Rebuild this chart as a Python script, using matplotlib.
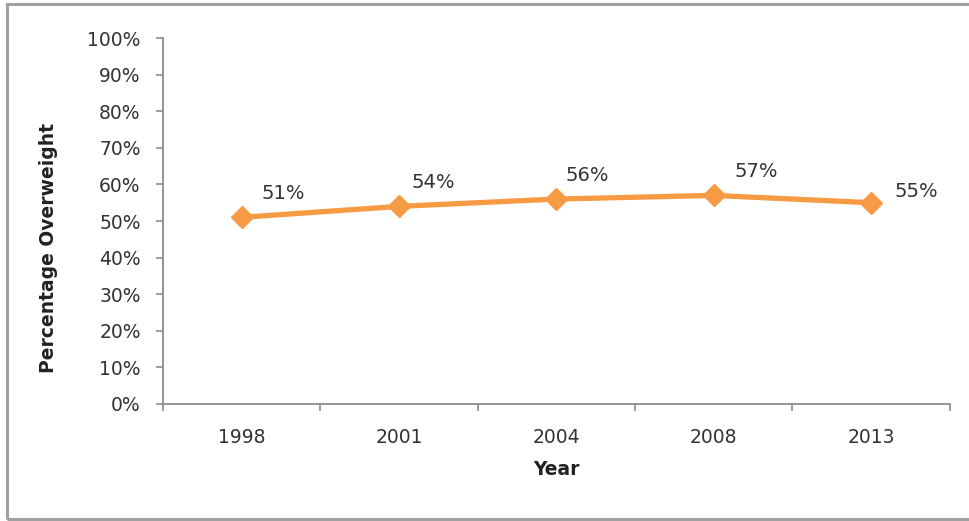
import matplotlib.pyplot as plt
from matplotlib.patches import Rectangle

years = ['1998', '2001', '2004', '2008', '2013']
overweight = [51, 54, 56, 57, 55]
point_labels = ['51%', '54%', '56%', '57%', '55%']
# label offsets in points (dx, dy) from each point
label_offsets = [(30, 17), (25, 17), (22, 17), (31, 17), (33, 8)]

plt.rcParams['font.family'] = ['DejaVu Sans']

fig = plt.figure(figsize=(9.7, 5.21), dpi=100)
ax = fig.add_axes([0.168, 0.2246, 0.811, 0.7024])

x = list(range(len(years)))
ax.plot(x, overweight, color='#F79A44', linewidth=3.8, marker='D',
        markersize=11, markerfacecolor='#F79A44', markeredgecolor='#F79A44',
        solid_capstyle='round', zorder=3)

for i, (v, lab) in enumerate(zip(overweight, point_labels)):
    ax.annotate(lab, (i, v), xytext=label_offsets[i], textcoords='offset points',
                ha='center', va='center', fontsize=14, color='#333333')

ax.set_xlim(-0.5, len(years) - 0.5)
ax.set_ylim(0, 100)
ax.set_yticks(range(0, 101, 10))
ax.set_yticklabels([f'{v}%' for v in range(0, 101, 10)])
ax.set_xticks([i - 0.5 for i in range(len(years) + 1)])
ax.set_xticklabels([])
ax.set_xticks(x, minor=True)
ax.set_xticklabels(years, minor=True)

for s in ['top', 'right']:
    ax.spines[s].set_visible(False)
for s in ['left', 'bottom']:
    ax.spines[s].set_color('#8c8c8c')
    ax.spines[s].set_linewidth(1.3)

ax.tick_params(axis='y', direction='out', length=5, width=1.2, color='#8c8c8c',
               labelsize=13.5, labelcolor='#333333', pad=11)
ax.tick_params(axis='x', which='major', direction='out', length=5, width=1.2,
               color='#8c8c8c')
ax.tick_params(axis='x', which='minor', length=0, labelsize=13.5,
               labelcolor='#333333', pad=17)

ax.set_xlabel('Year', fontsize=13.5, fontweight='bold', color='#222222', va='center')
ax.xaxis.set_label_coords(0.5, -0.178)
ax.set_ylabel('Percentage Overweight', fontsize=13.5, fontweight='bold',
              color='#222222', va='center')
ax.yaxis.set_label_coords(-0.146, 0.426)

# outer frame of the chart area (right edge runs off the image)
fig.patches.append(Rectangle((7 / 970, 2 / 521), 2.0, 515 / 521,
                             transform=fig.transFigure, fill=False,
                             edgecolor='#a0a0a0', linewidth=2.2))

fig.savefig('out.png', dpi=100)
